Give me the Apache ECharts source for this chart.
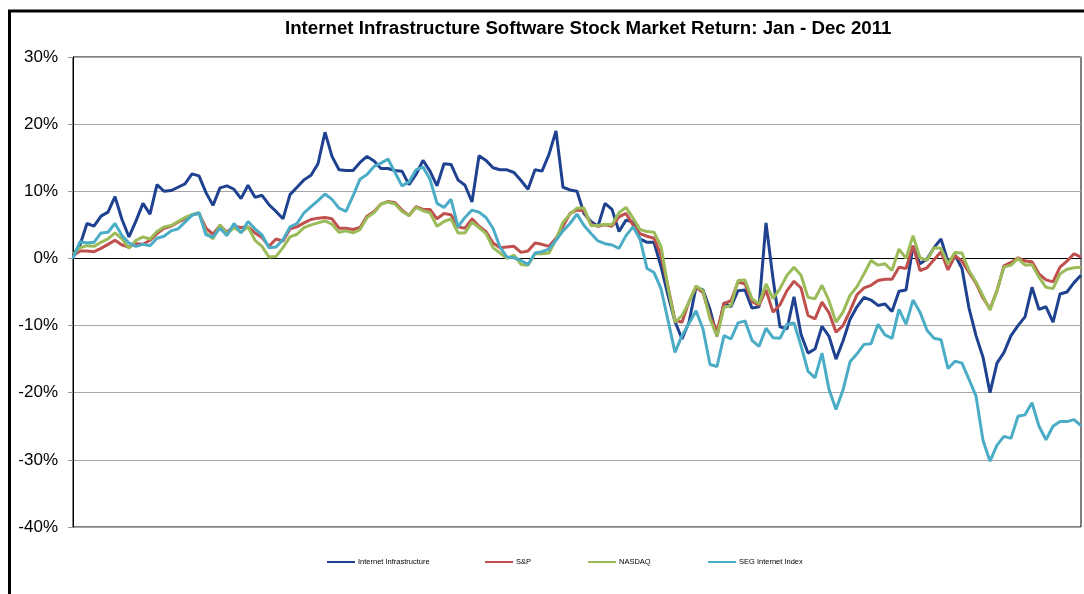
<!DOCTYPE html>
<html>
<head>
<meta charset="utf-8">
<title>Internet Infrastructure Software Stock Market Return: Jan - Dec 2011</title>
<script src="https://cdn.jsdelivr.net/npm/echarts@6.0.0/dist/echarts.min.js"></script>
<style>
  html, body { margin: 0; padding: 0; background: #fff; }
  #chart { width: 1084px; height: 594px; }
</style>
</head>
<body>
<div id="chart"></div>
<script>
// cumulative return (%) since the start of 2011, one value every ~2 trading days
const infraReturns = [
  0.5, 2.0, 5.2, 4.8, 6.3, 6.9, 9.2, 5.8, 3.2, 5.6, 8.2, 6.6, 11.0, 10.0, 10.1, 10.6, 11.1, 12.6, 12.3, 9.8,
  7.9, 10.5, 10.8, 10.3, 8.9, 10.9, 9.1, 9.4, 8.0, 7.0, 5.9, 9.5, 10.6, 11.7, 12.4, 14.1, 18.8, 15.2, 13.2, 13.1,
  13.1, 14.3, 15.2, 14.5, 13.4, 13.4, 13.1, 13.0, 11.0, 12.5, 14.6, 13.0, 10.8, 14.1, 14.0, 11.7, 10.9, 8.4, 15.3, 14.6,
  13.5, 13.2, 13.2, 12.8, 11.6, 10.3, 13.2, 13.0, 15.5, 19.0, 10.6, 10.2, 10.0, 6.7, 5.5, 4.8, 8.2, 7.3, 4.0, 5.7,
  5.4, 2.9, 2.4, 2.4, -1.2, -5.5, -9.4, -12.0, -9.5, -4.3, -4.7, -7.6, -11.6, -6.6, -7.2, -4.8, -4.7, -7.4, -7.2, 5.3,
  -3.0, -10.2, -10.5, -5.7, -11.3, -14.1, -13.5, -10.1, -11.6, -15.0, -12.3, -9.1, -7.2, -5.8, -6.2, -7.0, -6.8, -7.9, -4.9, -4.7,
  1.8, -0.8, -0.1, 1.6, 2.9, -0.5, 0.5, -1.5, -7.4, -11.5, -14.7, -20.0, -15.6, -14.0, -11.5, -10.0, -8.7, -4.3, -7.6, -7.2,
  -9.5, -5.3, -5.0, -3.6, -2.5
];

const spReturns = [
  0.4, 1.1, 1.1, 1.0, 1.5, 2.1, 2.7, 2.0, 1.7, 2.2, 2.1, 2.7, 3.7, 4.5, 4.8, 5.4, 5.9, 6.5, 6.7, 4.5,
  3.6, 4.9, 3.9, 4.8, 4.6, 4.7, 3.8, 3.1, 1.8, 2.9, 2.6, 4.4, 4.7, 5.3, 5.8, 6.0, 6.1, 5.9, 4.5, 4.5,
  4.3, 4.6, 6.3, 7.0, 8.1, 8.5, 8.3, 7.2, 6.4, 7.7, 7.3, 7.3, 5.9, 6.7, 6.5, 4.7, 4.5, 5.9, 4.8, 4.0,
  2.3, 1.6, 1.7, 1.8, 0.9, 1.1, 2.3, 2.1, 1.8, 3.0, 4.8, 6.7, 7.2, 7.1, 5.1, 4.8, 5.0, 4.8, 6.2, 6.7,
  5.0, 3.7, 3.3, 3.0, 0.5, -4.2, -9.2, -9.5, -6.4, -4.3, -5.1, -8.6, -10.9, -6.7, -6.3, -3.5, -3.8, -6.4, -7.0, -4.7,
  -8.0, -6.9, -4.8, -3.4, -4.4, -8.5, -9.0, -6.5, -8.1, -11.0, -10.0, -7.8, -5.4, -4.4, -4.0, -3.3, -3.1, -3.1, -1.3, -1.5,
  1.9, -1.8, -1.4, -0.2, 1.0, -1.7, 0.4, -0.4, -2.1, -3.7, -5.9, -7.5, -4.8, -1.1, -0.6, 0.1, -0.4, -0.5, -2.3, -3.2,
  -3.5, -1.3, -0.4, 0.7, 0.2
];

const nasdaqReturns = [
  0.6, 1.6, 1.9, 1.8, 2.4, 2.9, 3.8, 2.9, 1.5, 2.7, 3.2, 2.9, 4.0, 4.7, 4.9, 5.5, 6.1, 6.5, 6.8, 3.8,
  2.9, 5.0, 3.7, 4.6, 3.9, 4.7, 2.7, 1.8, 0.2, 0.3, 1.6, 3.2, 3.6, 4.6, 5.0, 5.3, 5.6, 5.1, 3.9, 4.1,
  3.8, 4.3, 6.1, 6.8, 8.1, 8.4, 8.1, 7.0, 6.4, 7.6, 7.1, 6.8, 4.8, 5.5, 5.9, 3.8, 3.8, 5.4, 4.6, 3.7,
  1.6, 0.8, 0.0, 0.5, -0.9, -1.0, 0.7, 0.7, 0.8, 2.8, 5.4, 6.6, 7.5, 7.5, 4.9, 4.9, 5.1, 5.0, 6.8, 7.6,
  6.0, 4.3, 4.0, 3.9, 1.8, -4.3, -9.5, -8.5, -6.5, -4.1, -4.8, -9.0, -11.6, -7.3, -7.0, -3.3, -3.2, -6.0, -6.8, -3.8,
  -6.0, -4.5, -2.5, -1.3, -2.5, -5.8, -6.0, -4.0, -6.3, -9.5, -8.0, -5.5, -4.2, -2.3, -0.3, -1.0, -0.8, -1.8, 1.4, 0.0,
  3.4, 0.1, -0.3, 1.6, 1.5, -0.8, 0.9, 0.8, -1.8, -3.5, -5.6, -7.7, -4.8, -1.3, -1.0, 0.0, -1.0, -0.9, -2.8, -4.3,
  -4.5, -2.3, -1.6, -1.4, -1.3
];

const segReturns = [
  0.0, 2.5, 2.3, 2.4, 3.8, 3.9, 5.2, 3.4, 2.3, 1.8, 2.1, 1.9, 3.0, 3.3, 4.1, 4.4, 5.4, 6.4, 6.8, 3.5,
  3.2, 4.5, 3.4, 5.2, 3.8, 5.5, 4.4, 3.5, 1.6, 1.7, 2.8, 4.7, 5.2, 6.8, 7.7, 8.6, 9.6, 8.8, 7.5, 7.0,
  9.3, 11.8, 12.5, 13.7, 14.2, 14.8, 12.8, 10.8, 11.4, 13.2, 13.6, 11.8, 8.2, 7.6, 8.8, 4.7, 6.1, 7.2, 6.9, 6.1,
  4.5, 1.7, 0.2, 0.1, -0.3, -0.9, 0.8, 1.0, 1.4, 2.7, 4.1, 5.2, 6.6, 4.9, 3.7, 2.6, 2.2, 2.0, 1.5, 3.4,
  4.7, 2.9, -1.5, -2.1, -4.5, -9.2, -14.0, -11.5, -9.7, -7.8, -10.5, -15.8, -16.1, -11.5, -12.0, -9.6, -9.3, -12.2, -13.1, -10.4,
  -11.8, -11.9, -9.8, -9.6, -13.0, -16.8, -17.8, -14.1, -19.5, -22.5, -19.6, -15.4, -14.2, -12.8, -12.7, -9.8, -11.4, -11.9, -7.6, -9.8,
  -6.2, -8.0, -10.7, -11.9, -12.1, -16.4, -15.3, -15.6, -18.0, -20.5, -27.1, -30.2, -27.8, -26.5, -26.8, -23.5, -23.3, -21.5, -25.0, -27.0,
  -25.0, -24.3, -24.3, -24.0, -24.9
];

const seriesNames = ['Internet Infrastructure', 'S&P', 'NASDAQ', 'SEG Internet Index'];
const seriesColors = ['#1f4290', '#c0504d', '#9bbb59', '#4bacc6'];
const seriesData = [infraReturns, spReturns, nasdaqReturns, segReturns];

const yTicks = { min: -40, max: 30, step: 10 };

const tradingDays = infraReturns.map((_, i) => i + 1);

const chart = echarts.init(document.getElementById('chart'));

const font = '"Liberation Sans", Arial, sans-serif';

// one legend box per entry, placed like the original's evenly spread legend
const legendLefts = [327, 485, 588, 708];

const option = {
  animation: false,
  backgroundColor: '#ffffff',
  title: {
    text: 'Internet Infrastructure Software Stock Market Return: Jan - Dec 2011',
    left: 285,
    top: 19,
    padding: 0,
    textStyle: {
      fontFamily: font,
      fontSize: 18.7,
      fontWeight: 'bold',
      color: '#000'
    }
  },
  legend: seriesNames.map((name, i) => ({
    data: [name],
    left: legendLefts[i],
    top: 558,
    padding: 0,
    icon: 'rect',
    itemWidth: 28,
    itemHeight: 2,
    selectedMode: false,
    textStyle: {
      fontFamily: font,
      fontSize: 7.5,
      color: '#000',
      padding: [0, 0, 0, -2]
    }
  })),
  grid: {
    left: 73,
    right: 3,
    top: 57,
    bottom: 67,
    show: true,
    borderColor: '#000',
    borderWidth: 1,
    containLabel: false
  },
  xAxis: {
    type: 'category',
    data: tradingDays,
    boundaryGap: false,
    axisLine: { show: true, onZero: true, lineStyle: { color: '#000', width: 1 } },
    axisTick: { show: false },
    axisLabel: { show: false },
    splitLine: { show: false }
  },
  yAxis: {
    type: 'value',
    min: yTicks.min,
    max: yTicks.max,
    interval: yTicks.step,
    axisLine: { show: true, lineStyle: { color: '#000' } },
    axisTick: { show: true, length: 5, lineStyle: { color: '#999' } },
    axisLabel: {
      formatter: '{value}%',
      margin: 15,
      fontFamily: font,
      fontSize: 17,
      color: '#000'
    },
    splitLine: { show: true, lineStyle: { color: '#a6a6a6', width: 1 } }
  },
  series: seriesNames.map((name, i) => ({
    name: name,
    type: 'line',
    data: seriesData[i],
    symbol: 'none',
    smooth: false,
    color: seriesColors[i],
    lineStyle: { color: seriesColors[i], width: 3 },
    z: 2 + i
  })),
  graphic: [{
    type: 'rect',
    silent: true,
    shape: { x: 9.5, y: 11, width: 1200, height: 1000 },
    style: { fill: 'none', stroke: '#000', lineWidth: 3 }
  }]
};

chart.setOption(option);
</script>
</body>
</html>
